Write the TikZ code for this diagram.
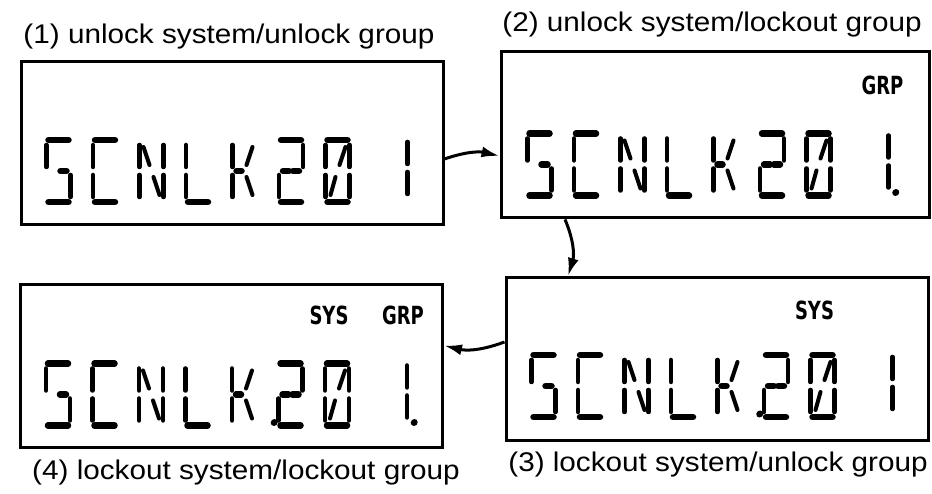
\documentclass[tikz,border=0pt]{standalone}
\usepackage{fontspec}
\setmainfont{Liberation Sans}
\newfontfamily\flagfont{DejaVu Sans}
\usetikzlibrary{arrows.meta}

\tikzset{
  panel/.style={draw=black, line width=3pt, minimum width=422pt, minimum height=163pt, inner sep=0pt},
  caption/.style={font=\fontsize{27}{30}\selectfont, xscale=1.1},
  flag/.style={font=\fontsize{25}{27}\selectfont\flagfont\bfseries, xscale=0.72},
  segh/.style={line width=6.5pt, line cap=round},
  segv/.style={line width=4.5pt, line cap=round},
  segd/.style={line width=4pt, line cap=round},
  flow/.style={line width=3pt, -{Latex[length=18pt,width=11pt]}},
  % 14-segment glyphs, cell 24 x 62
  glyph S/.pic={
    \draw[segh] (2,62) -- (22,62) (14,31) -- (20,31) (2,0) -- (22,0);
    \draw[segv] (0,57) -- (0,35) (24,27) -- (24,5);
  },
  glyph C/.pic={
    \draw[segh] (2,62) -- (22,62) (2,0) -- (22,0);
    \draw[segv] (0,57) -- (0,35) (0,27) -- (0,5);
  },
  glyph N/.pic={
    \draw[segv] (0,57) -- (0,35) (0,27) -- (0,5) (24,57) -- (24,35) (24,27) -- (24,5);
    \draw[segd] (4,55) -- (10,37) (14,25) -- (20,7);
  },
  glyph L/.pic={
    \draw[segh] (2,0) -- (22,0);
    \draw[segv] (0,57) -- (0,35) (0,27) -- (0,5);
  },
  glyph K/.pic={
    \draw[segh] (4,31) -- (9,31);
    \draw[segv] (0,57) -- (0,35) (0,27) -- (0,5);
    \draw[segd] (20,55) -- (14,37) (14,25) -- (20,7);
  },
  glyph 2/.pic={
    \draw[segh] (2,62) -- (22,62) (4,31) -- (10,31) (14,31) -- (20,31) (2,0) -- (22,0);
    \draw[segv] (24,57) -- (24,35) (0,27) -- (0,5);
  },
  glyph 0/.pic={
    \draw[segh] (2,62) -- (22,62) (2,0) -- (22,0);
    \draw[segv] (0,57) -- (0,35) (0,27) -- (0,5) (24,57) -- (24,35) (24,27) -- (24,5);
    \draw[segd] (20,55) -- (14,37) (10,25) -- (5,7);
  },
  glyph 1/.pic={
    \draw[segv] (12,60) -- (12,38) (12,30) -- (12,8);
  },
  readout/.pic={
    \begin{scope}[xslant=0.08]
      \pic at (0,0) {glyph S};
      \pic at (46.5,0) {glyph C};
      \pic at (93,0) {glyph N};
      \pic at (139.5,0) {glyph L};
      \pic at (186,0) {glyph K};
      \pic at (232.5,0) {glyph 2};
      \pic at (279,0) {glyph 0};
      \pic at (349,0) {glyph 1};
      #1
    \end{scope}
  },
}

\newcommand{\kdot}{\fill (228,3) circle (3.5pt);}
\newcommand{\onedot}{\fill (368,3) circle (3.5pt);}

\begin{document}
\begin{tikzpicture}[x=1pt, y=1pt]
\useasboundingbox (0,0) rectangle (932,494);
% the four display windows
\node[panel] (b1) at (232,351) {};
\node[panel, minimum width=428pt, minimum height=166pt] (b2) at (715,359) {};
\node[panel] (b3) at (717,135) {};
\node[panel] (b4) at (231.5,127.5) {};
% captions
\node[caption] (cap1) at (229,457) {(1) unlock system/unlock group};
\node[caption] (cap2) at (712,469) {(2) unlock system/lockout group};
\node[caption] (cap3) at (718,29) {(3) lockout system/unlock group};
\node[caption] (cap4) at (246,21) {(4) lockout system/lockout group};
% segment readouts
\pic at ([shift={(27,24)}]b1.south west) {readout={}};
\pic at ([shift={(28,24)}]b2.south west) {readout={\onedot}};
\pic at ([shift={(27,25)}]b3.south west) {readout={\kdot}};
\pic at ([shift={(27,24)}]b4.south west) {readout={\kdot\onedot}};
% annunciators
\node[flag] (grp2) at ([shift={(-48,-35)}]b2.north east) {GRP};
\node[flag] (sys3) at ([shift={(-115,-34)}]b3.north east) {SYS};
\node[flag] (sys4) at ([shift={(-115,-32)}]b4.north east) {SYS};
\node[flag] (grp4) at ([shift={(-41,-32)}]b4.north east) {GRP};
% state changes
\draw[flow] ([yshift=-16pt]b1.east) to[bend left=16] ([yshift=-21pt]b2.west);
\draw[flow] ([xshift=-150pt]b2.south) to[bend left=20] ([xshift=-149pt]b3.north);
\draw[flow] ([yshift=17pt]b3.west) to[bend left=17] ([yshift=21pt]b4.east);
\end{tikzpicture}
\end{document}
